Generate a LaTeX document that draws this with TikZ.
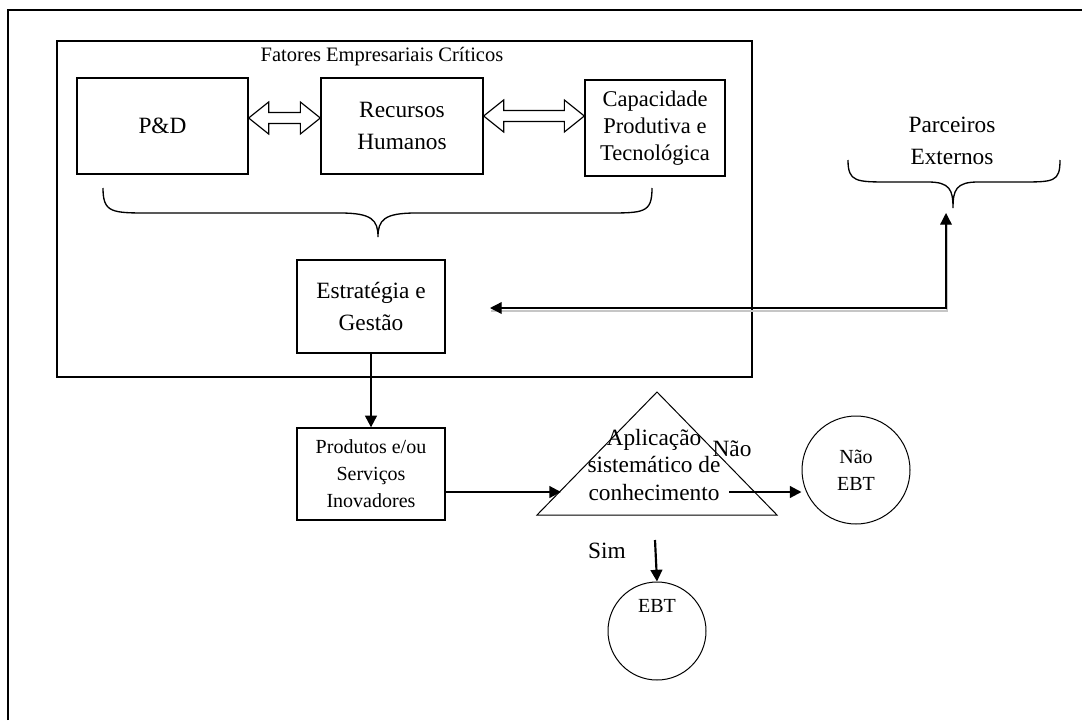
\documentclass[tikz,border=0pt]{standalone}
\usepackage{fontspec}
\setmainfont{Liberation Serif}
\usetikzlibrary{arrows.meta, calc}

% hollow two-headed arrow between two points (same height)
\newcommand{\hollowarrow}[2]{%
  \draw[line width=0.7pt] let \p1=(#1), \p2=(#2) in
    (\x1,\y1) -- (\x1+12pt,\y1+9.6pt) -- (\x1+12pt,\y1+3.3pt)
    -- (\x2-12pt,\y1+3.3pt) -- (\x2-12pt,\y1+9.6pt) -- (\x2,\y1)
    -- (\x2-12pt,\y1-9.6pt) -- (\x2-12pt,\y1-3.3pt)
    -- (\x1+12pt,\y1-3.3pt) -- (\x1+12pt,\y1-9.6pt) -- cycle;}

\begin{document}
\begin{tikzpicture}[x=0.6pt, y=-0.6pt,
    bigtext/.style={font=\fontsize{14}{19.2}\selectfont, align=center},
    smalltext/.style={font=\fontsize{12}{16.2}\selectfont, align=center},
    factorbox/.style={draw, line width=0.8pt, minimum height=57.6pt, inner sep=0pt},
    ebtcircle/.style={draw, circle, line width=0.6pt, inner sep=0pt},
    flow/.style={line width=1.3pt, -{Triangle[length=7pt, width=7pt]}}]
  \useasboundingbox (0,0) rectangle (1082,720);
  % Frame
  \draw[line width=0.9pt] (8,720) -- (8,10) -- (1082,10);
  % Critical factors
  \draw[line width=0.8pt] (57,41) rectangle (752,377);
  \node[font=\fontsize{12.3}{15}\selectfont] (title) at (382,57) {Fatores Empresariais Críticos};
  \node[factorbox, bigtext, minimum width=102.6pt] (pd) at (162.5,126) {P\&D};
  \node[factorbox, bigtext, minimum width=97.2pt] (rh) at (402,126) {Recursos\\Humanos};
  \node[factorbox, font=\fontsize{13.5}{16.2}\selectfont, align=center, minimum width=84pt] (cpt) at (655,128) {Capacidade\\Produtiva e\\Tecnológica};
  \hollowarrow{$(pd.east)+(0,-8)$}{$(rh.west)+(0,-8)$}
  \hollowarrow{$(rh.east)+(0,-10)$}{$(cpt.west)+(0,-10)$}
  % Brace under the factors
  \draw[line width=0.8pt] (103,188) .. controls (103,213) and (112,213) .. (150,213)
    -- (340,213) .. controls (372,213) and (378,220) .. (378,237)
    .. controls (378,220) and (384,213) .. (416,213)
    -- (606,213) .. controls (644,213) and (652,213) .. (652,188);
  \node[factorbox, bigtext, minimum width=88.8pt, minimum height=55.8pt] (eg) at (371,306.5) {Estratégia e\\Gestão};
  % External partners
  \node[bigtext] (pe) at (952,141) {Parceiros\\Externos};
  \draw[line width=0.8pt] (848,160) .. controls (848,182) and (856,182) .. (890,182)
    -- (928,182) .. controls (950,182) and (953,190) .. (953,208)
    .. controls (953,190) and (956,182) .. (978,182)
    -- (1020,182) .. controls (1054,182) and (1060,182) .. (1060,160);
  \coordinate (pe-tip) at (946,213);
  \coordinate (corner) at (946,308);
  \coordinate (eg-tip) at (490,308);
  \draw[gray!45, line width=1.2pt, transform canvas={xshift=0.6pt, yshift=-1.6pt}]
    (eg-tip) -- (corner) -- (pe-tip);
  \draw[line width=0.8pt, {Triangle[length=7pt, width=7pt]}-{Triangle[length=7pt, width=7pt]}]
    (eg-tip) -- (corner) -- (pe-tip);
  % Products and knowledge
  \node[factorbox, smalltext, minimum width=88.8pt, minimum height=55.2pt] (psi) at (371,474) {Produtos e/ou\\Serviços\\Inovadores};
  \draw[flow] (eg) -- (psi);
  \draw[line width=0.6pt] (537,515) -- (657,392) -- (777,515) -- cycle;
  \node[font=\fontsize{14}{16.5}\selectfont, align=center] (apl) at (654,465) {Aplicação\\sistemático de\\conhecimento};
  \coordinate (tri-in) at (561,492);
  \draw[flow] (psi.east |- tri-in) -- (tri-in);
  % Results
  \node[ebtcircle, smalltext, minimum size=64.8pt] (nebt) at (856,470) {Não\\EBT};
  \coordinate (nao-out) at (729,492);
  \draw[flow] (nao-out) -- (nao-out -| nebt.west);
  \node[bigtext] (nao) at (732,449) {Não};
  \node[ebtcircle, minimum size=58.8pt] (ebt) at (657,631) {};
  \node[smalltext] (ebt-text) at (657,606) {EBT};
  \coordinate (sim-top) at (655,540);
  \draw[flow] (sim-top) -- (ebt.north);
  \node[bigtext] (sim) at (607,551) {Sim};
\end{tikzpicture}
\end{document}
